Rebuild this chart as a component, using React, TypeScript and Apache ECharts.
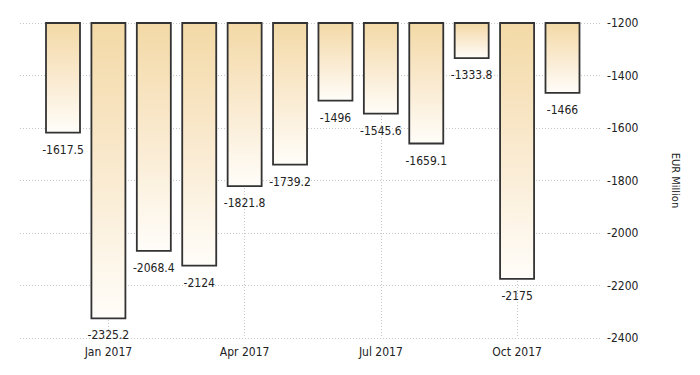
import React, { useEffect, useRef } from "react";
import * as echarts from "echarts";

const months = ["Dec 2016", "Jan 2017", "Feb 2017", "Mar 2017", "Apr 2017", "May 2017", "Jun 2017", "Jul 2017", "Aug 2017", "Sep 2017", "Oct 2017", "Nov 2017"];
const values = [-1617.5, -2325.2, -2068.4, -2124, -1821.8, -1739.2, -1496, -1545.6, -1659.1, -1333.8, -2175, -1466];
const baseValue = -1200;
const labeledMonths = [1, 4, 7, 10];

const FONT = "'DejaVu Sans Condensed', 'Liberation Sans Narrow', 'Arial Narrow', 'Liberation Sans', sans-serif";

export default function App() {
  const ref = useRef<HTMLDivElement>(null);
  useEffect(() => {
    document.body.style.margin = "0";
    const chart = echarts.init(ref.current!, null, { renderer: "svg" });
    const gridLine = { show: true, lineStyle: { color: "#c8c8c8", type: [1, 2] as any, width: 1 } };
    const barW = 34;
    chart.setOption({
      animation: false,
      grid: { left: 20, right: 98, top: 23, bottom: 37 },
      xAxis: {
        type: "value",
        min: -0.947,
        max: 11.87,
        axisLine: { show: false },
        axisTick: { show: false, customValues: labeledMonths },
        axisLabel: {
          customValues: labeledMonths,
          formatter: (v: number) => months[Math.round(v)] ?? "",
          fontFamily: FONT,
          fontSize: 12,
          color: "#222",
          margin: 8,
        },
        splitLine: gridLine,
      },
      yAxis: {
        type: "value",
        position: "right",
        min: -2400,
        max: -1200,
        interval: 200,
        axisLine: { show: false },
        axisTick: { show: false },
        axisLabel: { fontFamily: FONT, fontSize: 12, color: "#222", margin: 5, formatter: (v: number) => String(v) },
        splitLine: gridLine,
        name: "EUR Million",
        nameLocation: "middle",
        nameRotate: -90,
        nameGap: 68,
        nameTextStyle: { fontFamily: FONT, fontSize: 11, color: "#222" },
      },
      series: [
        {
          type: "custom",
          clip: false,
          data: values.map((v, i) => [i, v]),
          encode: { x: 0, y: 1 },
          renderItem: (params: any, api: any) => {
            const i = api.value(0);
            const v = api.value(1);
            const top = api.coord([i, baseValue]);
            const bot = api.coord([i, v]);
            return {
              type: "group",
              children: [
                {
                  type: "rect",
                  shape: { x: top[0] - barW / 2, y: top[1], width: barW, height: bot[1] - top[1] },
                  style: {
                    fill: new echarts.graphic.LinearGradient(0, 0, 0, 1, [
                      { offset: 0, color: "#f3d9a6" },
                      { offset: 0.45, color: "#f9e8cb" },
                      { offset: 1, color: "#fffdf9" },
                    ]),
                    stroke: "#333",
                    lineWidth: 1.8,
                  },
                },
                {
                  type: "text",
                  style: {
                    text: String(values[params.dataIndex]),
                    x: bot[0],
                    y: bot[1] + 11,
                    align: "center",
                    verticalAlign: "top",
                    fontFamily: FONT,
                    fontSize: 12,
                    fill: "#222",
                  },
                },
              ],
            };
          },
        },
      ],
    });
    return () => chart.dispose();
  }, []);
  return <div ref={ref} style={{ width: 700, height: 375 }} />;
}
